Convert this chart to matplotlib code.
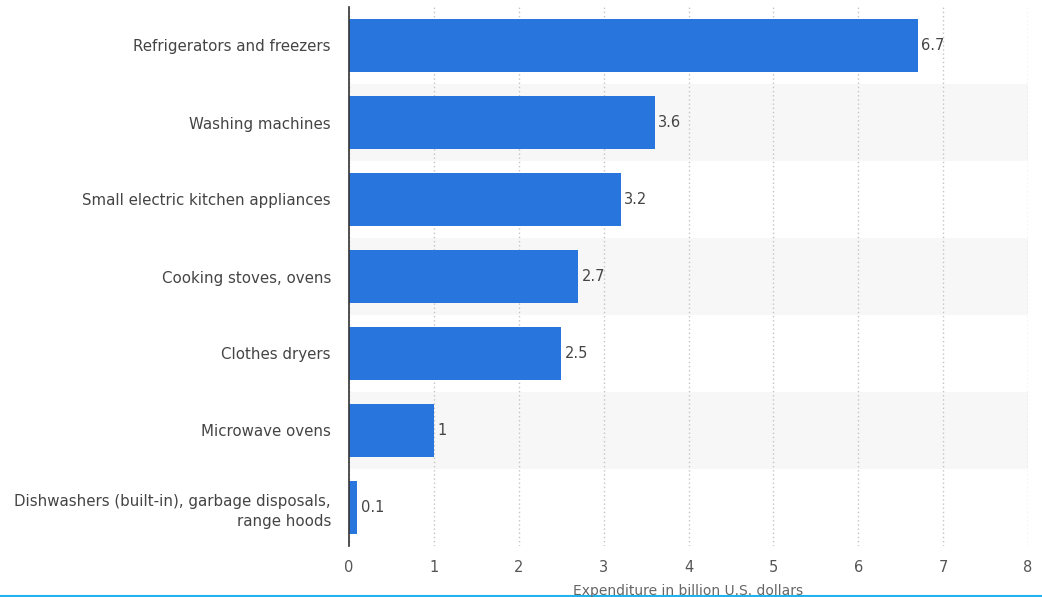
import numpy as np
import matplotlib
matplotlib.use("Agg")
import matplotlib.pyplot as plt
from matplotlib.lines import Line2D

categories = ["Refrigerators and freezers", "Washing machines",
              "Small electric kitchen appliances", "Cooking stoves, ovens",
              "Clothes dryers", "Microwave ovens",
              "Dishwashers (built-in), garbage disposals,\nrange hoods"]
values = [6.7, 3.6, 3.2, 2.7, 2.5, 1, 0.1]
value_labels = ["6.7", "3.6", "3.2", "2.7", "2.5", "1", "0.1"]
xticks = [0, 1, 2, 3, 4, 5, 6, 7, 8]

plt.rcParams['font.family'] = ['DejaVu Sans']

fig = plt.figure(figsize=(10.42, 5.97), dpi=100)
ax = fig.add_axes([349/1042, 1 - 546/597, (1028 - 349)/1042, 539/597])

y = np.arange(len(categories))
# alternating row bands
for i in y:
    if i % 2 == 1:
        ax.axhspan(i - 0.5, i + 0.5, color="#f7f7f7", zorder=0, lw=0)

ax.barh(y, values, height=0.68, color="#2876dd", zorder=3)
for yi, v, lab in zip(y, values, value_labels):
    ax.text(v + 0.04, yi, lab, va="center", ha="left", fontsize=10.5,
            color="#444444", zorder=4)

ax.set_xlim(0, 8)
ax.set_ylim(len(categories) - 0.5, -0.5)
ax.set_xticks(xticks)
ax.set_xticklabels([str(t) for t in xticks])
ax.set_yticks(y)
ax.set_yticklabels(categories, fontsize=10.8, color="#444444")
ax.tick_params(axis="x", length=0, pad=10, labelsize=10.5, labelcolor="#555555")
ax.tick_params(axis="y", length=0, pad=13)
for lab in ax.get_yticklabels():
    lab.set_multialignment("right")
    lab.set_linespacing(1.4)

ax.grid(axis="x", color="#c4c4c4", linestyle=(0, (1, 2)), linewidth=1.0, zorder=1)
ax.set_axisbelow(True)
for s in ["top", "right", "bottom"]:
    ax.spines[s].set_visible(False)
ax.spines["left"].set_color("#333333")
ax.spines["left"].set_linewidth(1.2)
ax.spines["left"].set_zorder(5)

fig.text(688/1042, 1 - 591/597, "Expenditure in billion U.S. dollars",
         ha="center", va="center", fontsize=10, color="#666666")
fig.add_artist(Line2D([0, 1], [1.5/597, 1.5/597], color="#1fb4ec", lw=1.5))

fig.savefig("out.png", dpi=100)
